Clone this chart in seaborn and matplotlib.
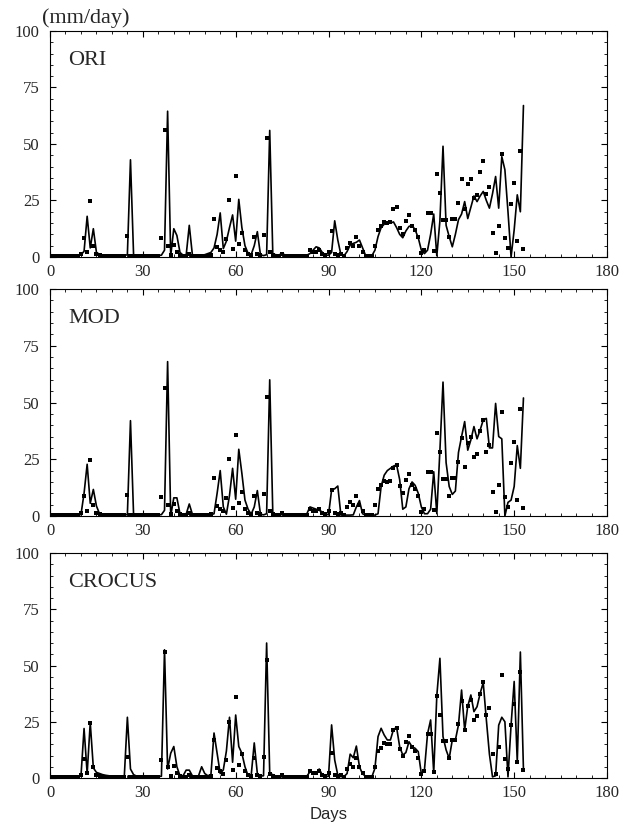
import matplotlib
matplotlib.use("Agg")
import matplotlib.pyplot as plt
import pandas as pd
import seaborn as sns
from matplotlib.ticker import MultipleLocator

# daily values, day 0 .. 153 (mm/day)
days = list(range(154))

observed = [
    0.3, 0.3, 0.3, 0.3, 0.3, 0.3, 0.3, 0.3, 0.3, 0.3,
    1.5, 8.6, 2.2, 24.6, 4.7, 1.5, 0.8, 0.5, 0.3, 0.3,
    0.3, 0.3, 0.3, 0.3, 0.3, 9.2, 0.5, 0.4, 0.3, 0.3,
    0.3, 0.3, 0.3, 0.3, 0.3, 0.3, 8.2, 56.2, 5.0, 1.0,
    5.5, 2.3, 0.8, 0.5, 0.5, 1.5, 0.5, 0.4, 0.4, 0.5,
    0.5, 0.6, 0.8, 16.7, 4.5, 3.0, 2.0, 7.8, 25.0, 3.4,
    35.8, 5.6, 10.5, 3.0, 1.5, 1.0, 8.9, 1.5, 0.8, 9.5,
    52.6, 2.0, 0.8, 0.5, 0.4, 1.5, 0.4, 0.3, 0.3, 0.3,
    0.3, 0.3, 0.3, 0.5, 3.3, 2.4, 2.1, 2.9, 1.4, 1.0,
    2.4, 11.3, 1.5, 0.8, 1.5, 0.5, 3.8, 6.3, 5.0, 8.8,
    5.0, 2.3, 0.4, 0.4, 0.4, 4.7, 11.8, 13.5, 15.5, 15.0,
    15.3, 21.2, 22.3, 13.0, 10.0, 16.0, 18.5, 13.6, 11.8, 9.0,
    1.7, 3.3, 19.6, 19.6, 2.6, 36.5, 28.2, 16.4, 16.4, 8.7,
    16.9, 16.9, 23.8, 34.3, 21.4, 32.2, 34.7, 25.9, 27.4, 37.5,
    42.5, 28.0, 31.1, 10.5, 1.8, 13.8, 45.6, 8.5, 3.8, 23.4,
    32.8, 7.2, 47.1, 3.5,
]

ori = [
    0.5, 0.5, 0.5, 0.5, 0.5, 0.5, 0.5, 0.5, 0.5, 0.6,
    1.0, 2.5, 18.0, 4.0, 12.5, 2.0, 1.2, 0.8, 0.6, 0.6,
    0.6, 0.6, 0.6, 0.6, 0.6, 1.0, 43.0, 1.0, 0.6, 0.6,
    0.6, 0.6, 0.6, 0.6, 0.6, 0.6, 0.8, 3.0, 64.5, 0.5,
    12.5, 9.5, 2.0, 0.8, 0.8, 14.0, 1.0, 0.7, 0.7, 0.8,
    1.0, 1.5, 2.0, 4.0, 10.0, 19.5, 3.7, 7.0, 13.0, 18.6,
    7.0, 25.5, 13.0, 5.0, 1.6, 1.0, 5.0, 11.2, 1.0, 0.6,
    1.0, 56.0, 1.2, 1.0, 0.8, 1.8, 0.7, 0.6, 0.6, 0.6,
    0.6, 0.6, 0.6, 0.8, 1.5, 3.0, 4.5, 4.0, 2.0, 0.8,
    0.8, 2.0, 16.0, 7.5, 1.0, 0.5, 2.4, 5.3, 6.0, 6.5,
    7.5, 4.0, 0.6, 0.5, 0.5, 3.0, 9.0, 13.0, 14.5, 15.5,
    15.0, 15.5, 13.0, 10.0, 8.5, 11.5, 13.5, 14.0, 12.0, 8.5,
    3.0, 1.5, 3.0, 10.0, 19.0, 0.5, 16.0, 49.0, 14.0, 9.0,
    4.5, 10.0, 16.5, 19.0, 24.5, 17.0, 22.0, 27.0, 24.5, 27.0,
    29.0, 25.0, 21.6, 28.0, 35.6, 21.6, 44.4, 38.6, 20.0, 0.0,
    12.0, 27.5, 20.0, 67.0,
]

mod = [
    0.5, 0.5, 0.5, 0.5, 0.5, 0.5, 0.5, 0.5, 0.5, 0.6,
    0.6, 10.0, 22.8, 5.6, 11.7, 4.4, 1.0, 0.6, 0.5, 0.5,
    0.5, 0.5, 0.5, 0.5, 0.5, 0.6, 42.0, 0.6, 0.5, 0.5,
    0.5, 0.5, 0.5, 0.5, 0.5, 0.5, 0.6, 2.5, 68.0, 0.0,
    8.0, 8.0, 1.0, 0.5, 0.8, 5.3, 0.8, 0.5, 0.5, 0.5,
    0.5, 0.5, 0.5, 1.0, 10.0, 20.0, 4.0, 0.8, 9.0, 21.0,
    7.4, 29.4, 18.8, 7.0, 3.0, 0.8, 4.0, 11.2, 0.8, 0.5,
    1.0, 60.0, 1.0, 0.7, 0.6, 0.6, 0.5, 0.5, 0.5, 0.5,
    0.5, 0.5, 0.5, 1.0, 4.0, 3.5, 3.0, 2.5, 1.8, 1.0,
    0.5, 11.5, 12.0, 13.2, 0.4, 0.4, 0.4, 0.4, 0.5, 4.0,
    6.8, 1.0, 0.4, 0.4, 0.4, 0.4, 1.0, 13.0, 18.0, 20.0,
    21.0, 22.0, 22.5, 16.0, 3.0, 4.0, 12.0, 15.0, 13.5, 10.0,
    4.0, 1.0, 1.0, 3.0, 19.5, 1.0, 29.0, 59.0, 23.5, 13.0,
    9.5, 11.0, 28.0, 35.0, 41.6, 29.0, 33.5, 39.4, 34.0, 37.9,
    42.3, 43.0, 30.0, 30.0, 49.6, 35.0, 34.0, 0.0, 6.0, 7.0,
    13.0, 31.0, 21.0, 52.0,
]

crocus = [
    0.5, 0.5, 0.5, 0.5, 0.5, 0.5, 0.5, 0.5, 0.5, 0.6,
    0.8, 22.0, 2.0, 24.6, 4.5, 2.5, 2.0, 1.5, 1.2, 1.0,
    0.8, 0.7, 0.6, 0.5, 0.6, 27.0, 4.0, 1.5, 0.8, 0.6,
    0.5, 0.5, 0.5, 0.5, 0.5, 0.6, 0.8, 57.0, 4.0, 11.0,
    14.0, 5.0, 1.0, 1.0, 3.5, 3.5, 1.0, 0.8, 1.0, 5.0,
    2.0, 1.0, 1.5, 20.0, 11.0, 2.0, 3.6, 12.0, 27.0, 7.0,
    28.0, 14.0, 11.0, 5.0, 1.0, 1.0, 15.6, 2.0, 0.8, 1.0,
    60.0, 2.0, 1.5, 0.8, 0.6, 0.5, 0.5, 0.5, 0.5, 0.5,
    0.5, 0.5, 0.5, 0.8, 2.8, 2.4, 2.0, 4.0, 1.3, 0.6,
    0.8, 23.6, 8.0, 1.3, 0.6, 0.6, 2.0, 10.6, 9.0, 14.2,
    5.0, 1.8, 0.8, 0.5, 0.5, 4.3, 18.4, 22.1, 19.1, 16.9,
    16.9, 21.6, 22.5, 13.9, 10.2, 11.3, 16.1, 13.9, 13.2, 11.7,
    1.8, 3.6, 19.6, 25.8, 2.4, 36.6, 53.2, 18.4, 12.5, 8.7,
    16.9, 16.9, 23.6, 39.1, 21.3, 32.0, 36.9, 29.5, 31.7, 37.6,
    42.4, 26.0, 10.6, 0.5, 1.0, 23.5, 27.0, 25.0, 0.5, 23.6,
    42.9, 7.2, 56.0, 3.6,
]

panel_names = ["ORI", "MOD", "CROCUS"]
panel_series = [ori, mod, crocus]

sns.set_style("ticks")
plt.rcParams["font.family"] = ["Liberation Serif", "DejaVu Serif"]

fig = plt.figure(figsize=(6.3, 8.26), dpi=100)

# axes boxes [left, bottom, width, height] in figure fraction
boxes = [
    [0.0794, 0.6889, 0.8841, 0.2736],
    [0.0794, 0.3753, 0.8841, 0.2748],
    [0.0794, 0.0581, 0.8841, 0.2724],
]

for name, vals, box in zip(panel_names, panel_series, boxes):
    ax = fig.add_axes(box)
    df = pd.DataFrame({"day": days, "model": vals, "obs": observed})
    sns.lineplot(data=df, x="day", y="model", color="black", linewidth=1.2, ax=ax)
    sns.scatterplot(data=df, x="day", y="obs", color="black", marker="s",
                    s=6, linewidth=0, ax=ax, zorder=3)
    ax.set_xlim(0, 180)
    ax.set_ylim(0, 100)
    ax.xaxis.set_major_locator(MultipleLocator(30))
    ax.xaxis.set_minor_locator(MultipleLocator(5))
    ax.yaxis.set_major_locator(MultipleLocator(25))
    ax.yaxis.set_minor_locator(MultipleLocator(5))
    ax.tick_params(which="both", direction="in", top=True, right=True,
                   labelsize=12, color="black")
    ax.tick_params(which="major", length=4.5, width=0.8)
    ax.tick_params(which="minor", length=2.2, width=0.6)
    ax.tick_params(axis="y", pad=7.5)
    ax.tick_params(axis="x", pad=5)
    for sp in ax.spines.values():
        sp.set_linewidth(0.8)
        sp.set_color("black")
    ax.set_xlabel("")
    ax.set_ylabel("")
    ax.text(6, 85, name, fontsize=16, ha="left", va="baseline")

ax.set_xlabel("Days", family=["Liberation Sans", "DejaVu Sans"], fontsize=12, labelpad=4)

fig.text(0.066, 0.972, "(mm/day)", fontsize=16, ha="left", va="baseline")

fig.savefig("out.png", dpi=100)
